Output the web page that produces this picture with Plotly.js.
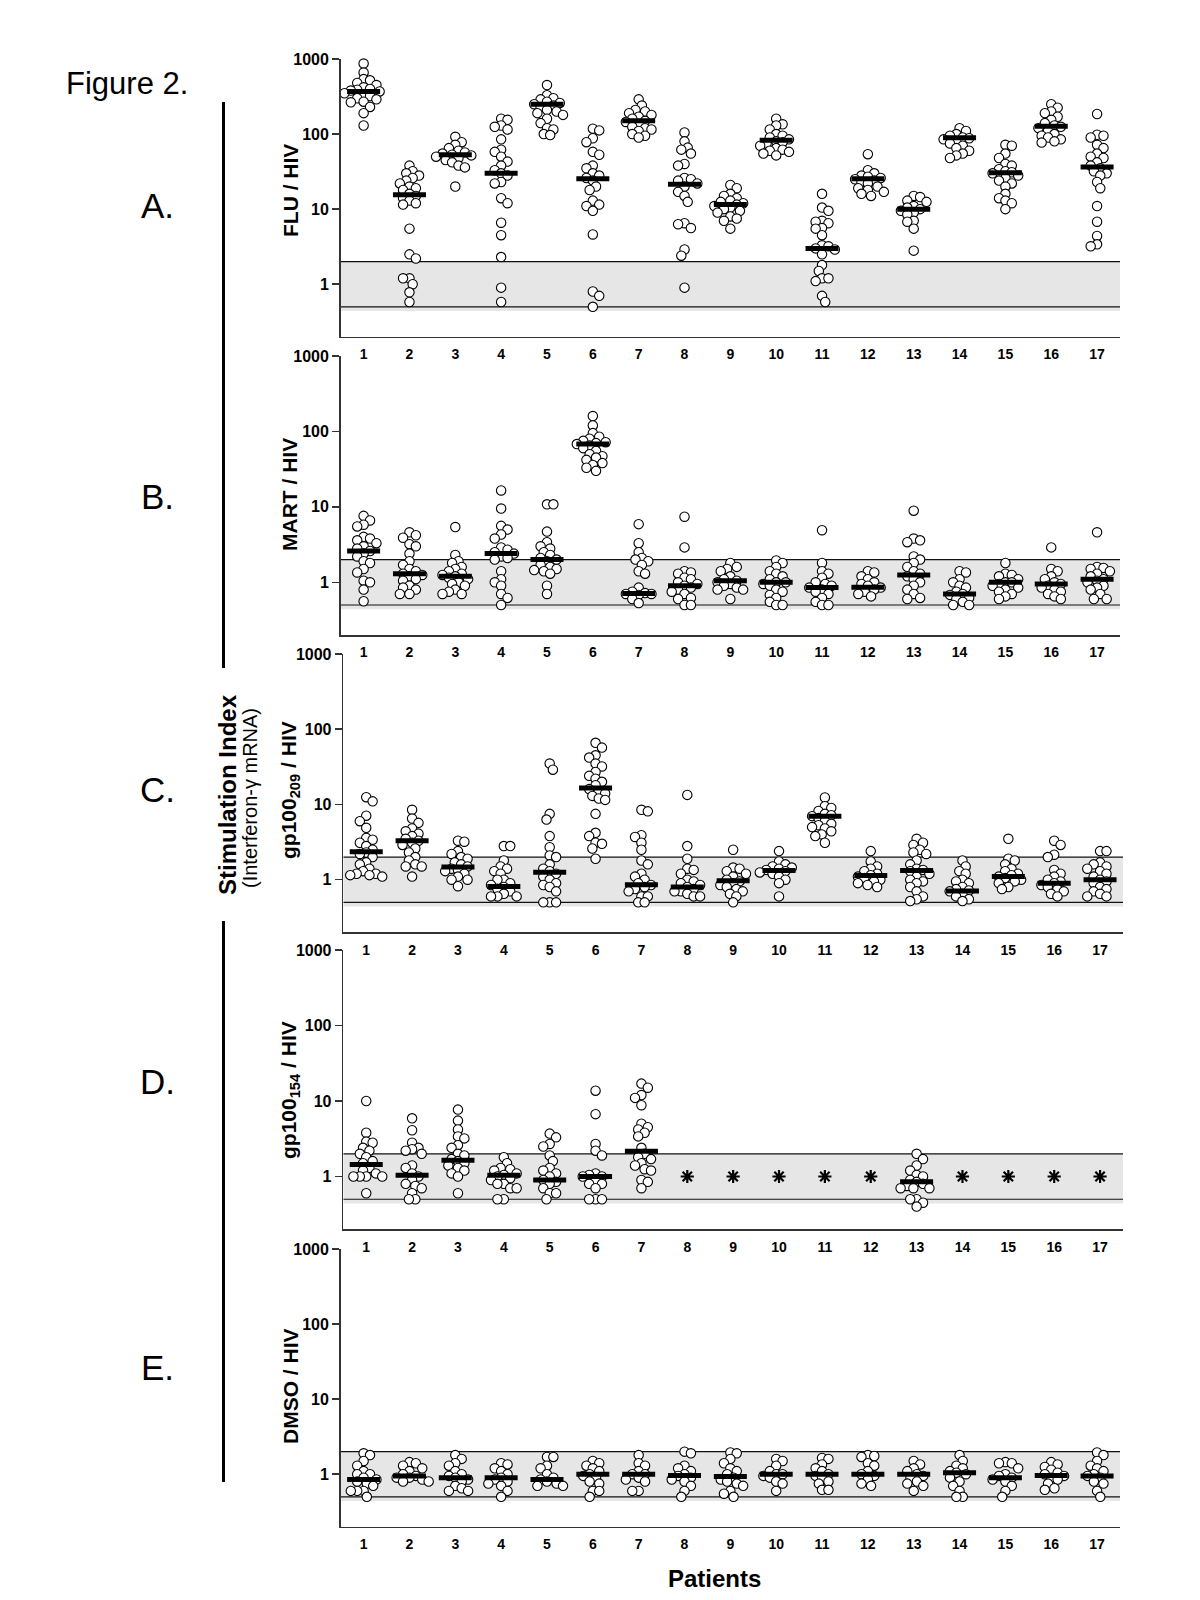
<!DOCTYPE html>
<html>
<head>
<meta charset="utf-8">
<script src="https://cdn.plot.ly/plotly-3.0.1.min.js"></script>
<style>html,body{margin:0;padding:0;background:#fff;}#chart{width:1200px;height:1600px;}</style>
</head>
<body>
<div id="chart"></div>
<script>
// ---------------- DATA ----------------
const patients = [1,2,3,4,5,6,7,8,9,10,11,12,13,14,15,16,17];
const yTickVals = [1, 10, 100, 1000];
const yTickText = ["1", "10", "100", "1000"];
const bandLow = 0.44, bandHigh = 2, lineLow = 0.5, lineHigh = 2;

const fluHiv = [
  [870,660,540,520,480,450,420,400,390,380,370,350,330,320,300,290,270,265,230,190,130],
  [38,32,30,28,26,24,22,20,19,18,16,15,14,13,12,11.5,5.5,2.5,2.2,1.2,1.2,1.0,0.78,0.58],
  [92,78,72,65,60,57,55,53,52,50,48,45,42,38,36,20],
  [160,155,130,125,115,85,62,58,50,43,38,33,30,28,23,22,14,12,6.6,4.5,2.3,0.9,0.58],
  [450,330,300,290,270,260,250,240,230,210,200,190,180,160,140,120,115,100,97],
  [118,112,88,78,58,53,38,35,30,28,26,24,20,18,13,11.5,11,9.5,4.6,0.8,0.7,0.5],
  [290,240,210,200,190,180,170,160,150,145,135,125,120,115,110,100,95,90],
  [105,80,66,62,55,40,38,26,25,24,22,20,17,15,12.5,6.5,6.3,5.6,2.9,2.4,0.9],
  [21,19,16,15,14,13,12.5,12,11.5,11,10.5,10,9.5,9,8,7.5,7,5.5],
  [160,135,130,115,100,95,90,85,80,78,75,70,65,62,60,58,55,52],
  [16,10.5,9.5,7,6.8,6.5,5.6,5.5,4.5,3.3,3.2,3.0,2.9,2.5,1.8,1.5,1.2,1.2,1.1,0.7,0.58],
  [54,33,30,28,27,26,25,24,23,22,20,19,18,17,16,15],
  [15,14.5,13,12.5,11,10.5,10,9.5,9,8.5,7,6.8,5.5,2.8],
  [120,110,100,95,90,88,85,80,75,70,65,60,55,52,48],
  [72,70,55,48,40,38,34,32,31,30,28,26,24,22,20,16,14,13,12,10],
  [250,225,200,190,170,155,140,130,125,120,110,100,95,90,85,80,77],
  [185,98,95,90,72,65,55,50,48,42,38,35,32,30,28,23,19,11,6.8,4.4,3.4,3.2]
];
const fluMedian = [370,15.5,53,30,250,25.5,150,21.5,11.5,83,3.0,25.5,10,89,30.5,127,36.5];

const martHiv = [
  [7.6,6.6,5.8,5.5,4.0,3.8,3.6,3.3,3.0,2.8,2.6,2.4,2.2,1.9,1.8,1.5,1.35,1.05,1.0,0.8,0.56],
  [4.6,4.2,3.9,3.2,3.0,2.4,1.9,1.7,1.5,1.4,1.3,1.25,1.2,1.1,1.05,0.9,0.85,0.8,0.7,0.7],
  [5.4,2.3,1.9,1.8,1.6,1.5,1.4,1.3,1.25,1.2,1.15,1.1,1.0,0.95,0.9,0.8,0.75,0.7,0.7],
  [16.5,9.5,5.6,5.0,4.3,3.8,2.9,2.7,2.5,2.4,2.2,2.1,2.0,1.4,1.1,1.0,0.9,0.7,0.62,0.5],
  [10.8,10.8,4.7,3.4,3.0,2.8,2.5,2.3,2.1,2.0,1.9,1.7,1.6,1.5,1.45,1.4,1.3,0.9,0.7],
  [160,120,95,85,80,75,72,70,68,65,60,55,50,47,45,42,38,36,33,30],
  [5.9,3.3,2.5,2.1,2.0,1.9,1.7,1.4,1.3,0.85,0.75,0.72,0.7,0.7,0.68,0.6,0.53],
  [7.4,2.9,1.4,1.35,1.3,1.15,1.1,1.0,0.95,0.9,0.85,0.8,0.75,0.7,0.62,0.6,0.5,0.5],
  [1.8,1.6,1.5,1.4,1.2,1.1,1.05,1.0,0.95,0.9,0.85,0.8,0.8,0.6],
  [1.95,1.8,1.6,1.4,1.3,1.2,1.1,1.0,1.0,0.95,0.9,0.8,0.75,0.68,0.62,0.55,0.5,0.5],
  [4.9,1.8,1.4,1.3,1.15,1.0,0.95,0.9,0.85,0.8,0.75,0.7,0.62,0.55,0.5,0.5],
  [1.4,1.35,1.2,1.1,1.0,0.95,0.9,0.85,0.8,0.75,0.7,0.65],
  [8.9,3.8,3.6,3.4,2.2,2.0,1.8,1.6,1.4,1.3,1.2,1.1,1.0,0.9,0.8,0.7,0.62,0.6],
  [1.4,1.35,1.1,1.0,0.9,0.85,0.75,0.7,0.68,0.62,0.6,0.55,0.5,0.5],
  [1.8,1.3,1.25,1.2,1.1,1.0,1.0,0.95,0.9,0.85,0.8,0.75,0.7,0.65,0.6],
  [2.9,1.5,1.4,1.2,1.1,1.0,0.95,0.9,0.85,0.8,0.75,0.7,0.65,0.6],
  [4.6,1.6,1.55,1.5,1.4,1.3,1.2,1.1,1.05,1.0,0.9,0.85,0.8,0.7,0.6,0.6]
];
const martMedian = [2.6,1.3,1.2,2.4,2.0,68,0.71,0.9,1.05,1.0,0.85,0.86,1.25,0.7,1.0,0.95,1.1];

const gp209Hiv = [
  [12.5,11,7.1,6.0,4.9,3.6,3.4,3.1,2.8,2.5,2.3,2.2,2.0,1.7,1.6,1.4,1.3,1.2,1.2,1.15,1.15,1.1],
  [8.5,6.5,5.7,4.8,4.4,4.1,3.8,3.5,3.3,3.1,2.9,2.6,2.3,2.0,1.8,1.6,1.5,1.5,1.1],
  [3.3,3.2,2.4,2.2,2.0,1.9,1.7,1.6,1.5,1.4,1.35,1.3,1.2,1.1,1.0,1.0,0.82],
  [2.8,2.8,1.8,1.5,1.4,1.3,1.2,1.0,1.0,0.9,0.85,0.8,0.75,0.7,0.65,0.6,0.6,0.6],
  [35,29,7.5,6.3,3.8,2.7,2.1,2.0,1.6,1.4,1.3,1.2,1.1,1.0,0.9,0.85,0.8,0.7,0.5,0.5,0.5],
  [66,57,45,42,35,32,27,24,22,20,18,16,15,14,13,12,11.5,7.5,4.2,3.8,3.1,3.0,2.6,1.9],
  [8.5,8.1,3.9,3.7,3.1,2.5,1.8,1.6,1.2,1.1,1.0,0.9,0.85,0.8,0.75,0.7,0.6,0.6,0.5,0.5],
  [13.4,2.8,1.9,1.4,1.35,1.2,1.0,0.95,0.9,0.85,0.8,0.75,0.7,0.7,0.65,0.6,0.6],
  [2.5,1.45,1.4,1.3,1.2,1.1,1.0,0.95,0.9,0.85,0.8,0.75,0.7,0.65,0.6,0.5],
  [2.4,1.75,1.6,1.5,1.45,1.4,1.35,1.3,1.25,1.2,1.1,1.0,0.9,0.6],
  [12.4,9.5,9.0,8.2,7.5,7.2,7.0,6.6,6.0,5.5,5.3,5.0,4.8,4.4,4.0,3.8,3.1],
  [2.4,1.75,1.5,1.4,1.3,1.2,1.15,1.1,1.05,1.0,0.95,0.9,0.85,0.8],
  [3.5,3.1,2.9,2.5,2.3,2.2,1.8,1.6,1.4,1.35,1.3,1.2,1.1,1.0,0.95,0.9,0.8,0.7,0.6,0.55,0.52],
  [1.8,1.5,1.3,1.2,1.0,0.95,0.9,0.8,0.75,0.72,0.7,0.65,0.6,0.55,0.52],
  [3.5,1.9,1.8,1.6,1.4,1.3,1.2,1.15,1.1,1.05,1.0,0.95,0.9,0.8,0.75],
  [3.3,2.9,2.15,2.0,1.35,1.2,1.1,1.0,0.95,0.9,0.85,0.8,0.75,0.7,0.65,0.6],
  [2.4,2.4,1.7,1.6,1.5,1.4,1.3,1.2,1.1,1.0,0.95,0.9,0.8,0.75,0.7,0.65,0.6,0.6]
];
const gp209Median = [2.35,3.3,1.47,0.81,1.26,16.5,0.86,0.8,0.97,1.33,7.0,1.14,1.33,0.71,1.1,0.9,1.0];

const gp154Hiv = [
  [10,3.8,2.9,2.8,2.4,2.2,2.0,1.8,1.6,1.5,1.3,1.2,1.1,1.0,1.0,1.0,1.0,0.6],
  [5.9,4.1,2.8,2.4,2.3,2.2,2.0,1.4,1.3,1.1,1.0,0.9,0.8,0.75,0.7,0.6,0.5,0.5],
  [7.7,5.5,4.2,3.4,3.2,2.6,2.4,2.0,1.9,1.7,1.6,1.5,1.4,1.3,1.2,1.1,1.0,0.6],
  [1.8,1.5,1.3,1.25,1.2,1.1,1.05,1.0,0.95,0.9,0.8,0.8,0.7,0.7,0.5,0.5],
  [3.7,3.3,2.7,2.5,1.9,1.6,1.3,1.2,1.1,1.0,0.9,0.85,0.8,0.7,0.6,0.6,0.5],
  [13.7,6.7,2.7,2.2,1.9,1.1,1.05,1.0,1.0,0.9,0.8,0.8,0.7,0.5,0.5,0.5],
  [17,15,12,11,8.8,5.0,4.5,4.2,3.8,3.4,2.4,2.0,1.8,1.7,1.5,1.4,1.25,1.2,0.9,0.85,0.7],
  [], [], [], [], [],
  [2.0,1.7,1.4,1.2,1.05,1.0,0.9,0.85,0.8,0.75,0.7,0.7,0.7,0.5,0.5,0.45,0.4],
  [], [], [], []
];
const gp154Median = [1.44,1.04,1.64,1.04,0.9,1.0,2.16,null,null,null,null,null,0.85,null,null,null,null];
const gp154NotDone = [8,9,10,11,12,14,15,16,17];
const notDoneMarkValue = 1;

const dmsoHiv = [
  [1.9,1.8,1.5,1.3,1.1,1.0,1.0,0.9,0.85,0.8,0.75,0.7,0.6,0.6,0.6,0.5],
  [1.45,1.4,1.3,1.2,1.1,1.0,0.95,0.9,0.9,0.85,0.8,0.8],
  [1.8,1.6,1.4,1.3,1.1,1.0,0.95,0.9,0.85,0.8,0.7,0.65,0.6,0.6],
  [1.4,1.35,1.2,1.1,1.0,0.9,0.85,0.8,0.75,0.7,0.6,0.5],
  [1.7,1.7,1.3,1.2,1.0,0.9,0.85,0.8,0.75,0.7,0.7],
  [1.5,1.4,1.3,1.2,1.1,1.0,0.95,0.9,0.8,0.75,0.6,0.6,0.5],
  [1.8,1.4,1.3,1.1,1.0,1.0,0.9,0.85,0.8,0.6,0.6],
  [2.0,1.9,1.3,1.2,1.1,1.0,0.95,0.9,0.85,0.8,0.7,0.6,0.5],
  [1.95,1.9,1.6,1.4,1.2,1.1,1.0,0.9,0.85,0.8,0.75,0.7,0.6,0.55,0.5],
  [1.6,1.5,1.3,1.1,1.0,1.0,0.95,0.9,0.8,0.75,0.6],
  [1.65,1.6,1.35,1.2,1.1,1.0,0.95,0.9,0.8,0.75,0.62,0.62],
  [1.8,1.75,1.7,1.4,1.3,1.1,1.0,0.95,0.85,0.75,0.7],
  [1.5,1.35,1.2,1.1,1.0,0.95,0.9,0.8,0.75,0.7,0.6],
  [1.8,1.5,1.3,1.2,1.1,1.05,1.0,0.9,0.8,0.7,0.6,0.5,0.5],
  [1.45,1.4,1.4,1.2,1.0,0.95,0.9,0.85,0.8,0.7,0.6,0.5],
  [1.45,1.35,1.25,1.15,1.05,1.0,0.95,0.9,0.85,0.75,0.65,0.62],
  [1.95,1.8,1.5,1.3,1.2,1.1,1.0,0.95,0.9,0.8,0.75,0.6,0.5]
];
const dmsoMedian = [0.85,0.95,0.9,0.9,0.85,1.0,1.0,0.96,0.93,1.0,1.0,1.0,1.0,1.05,0.9,0.96,0.95];

// ---------------- LAYOUT HELPERS ----------------
const W = 1200, H = 1600;
const FONT = "Liberation Sans, Arial, Helvetica, sans-serif";
const px = v => v / W;
const py = v => 1 - v / H;

const panels = [
  {data: fluHiv,  med: fluMedian,   xl: 340.7, xr: 1120, top: 59,   bot: 336.7,  title: "FLU / HIV", ty: 191},
  {data: martHiv, med: martMedian,  xl: 340.7, xr: 1120, top: 356,  bot: 635,    title: "MART / HIV", ty: 495},
  {data: gp209Hiv,med: gp209Median, xl: 343.3, xr: 1123, top: 654,  bot: 932.3,  title: "gp100<sub>209</sub> / HIV", ty: 790},
  {data: gp154Hiv,med: gp154Median, xl: 343.3, xr: 1123, top: 950,  bot: 1229.3, title: "gp100<sub>154</sub> / HIV", ty: 1090},
  {data: dmsoHiv, med: dmsoMedian,  xl: 340.7, xr: 1120, top: 1249, bot: 1526.7, title: "DMSO / HIV", ty: 1386}
];

const Y_MIN = 0.2, Y_MAX = 1000;
const X_MIN = 0.5, X_MAX = 17.5;

// simple deterministic beeswarm: spread overlapping points sideways
function swarm(vals, pxPerDecade, pxPerCat) {
  const MIN = 6.4, STEP = 3.2;
  const order = vals.map((v, i) => ({i, y: Math.log10(v) * pxPerDecade}))
                    .sort((a, b) => b.y - a.y);
  const placed = [];
  const out = new Array(vals.length).fill(0);
  let flip = 1;
  for (const p of order) {
    let chosen = 0;
    for (let k = 0; k < 30; k++) {
      const cands = k === 0 ? [0] : [flip * k * STEP, -flip * k * STEP];
      let ok = null;
      for (const dx of cands) {
        if (placed.every(q => Math.hypot(q.x - dx, q.y - p.y) >= MIN)) { ok = dx; break; }
      }
      if (ok !== null) { chosen = ok; break; }
    }
    if (chosen !== 0) flip = -flip;
    placed.push({x: chosen, y: p.y});
    out[p.i] = chosen / pxPerCat;
  }
  return out;
}

const traces = [];
const layout = {
  width: W, height: H,
  margin: {l: 0, r: 0, t: 0, b: 0},
  paper_bgcolor: "#fff", plot_bgcolor: "rgba(0,0,0,0)",
  showlegend: false, hovermode: false,
  font: {family: FONT, color: "#000"},
  annotations: [], shapes: []
};

panels.forEach((P, k) => {
  const n = k + 1;
  const xa = n === 1 ? "x" : "x" + n;
  const ya = n === 1 ? "y" : "y" + n;
  const xKey = n === 1 ? "xaxis" : "xaxis" + n;
  const yKey = n === 1 ? "yaxis" : "yaxis" + n;
  const plotW = P.xr - P.xl;
  const plotH = P.bot - P.top;
  const pxPerCat = plotW / (X_MAX - X_MIN);
  const pxPerDecade = plotH / (Math.log10(Y_MAX) - Math.log10(Y_MIN));

  layout[xKey] = {
    domain: [px(P.xl), px(P.xr)], anchor: ya, range: [X_MIN, X_MAX],
    tickmode: "array", tickvals: patients, ticktext: patients.map(String),
    showline: true, linecolor: "#333", linewidth: 1.6, ticks: "",
    ticklabelstandoff: 4,
    showgrid: false, zeroline: false, fixedrange: true,
    tickfont: {family: FONT, size: 14, weight: "bold", color: "#000"}
  };
  layout[yKey] = {
    domain: [py(P.bot), py(P.top)], anchor: xa, type: "log",
    range: [Math.log10(Y_MIN), Math.log10(Y_MAX)],
    tickmode: "array", tickvals: yTickVals, ticktext: yTickText,
    showline: true, linecolor: "#333", linewidth: 1.6,
    ticks: "outside", ticklen: 7, tickwidth: 1.5, tickcolor: "#333",
    showgrid: false, zeroline: false, fixedrange: true,
    tickfont: {family: FONT, size: 16, weight: "bold", color: "#000"}
  };

  // shaded band
  traces.push({
    type: "scatter", mode: "lines", xaxis: xa, yaxis: ya,
    x: [X_MIN, X_MAX, X_MAX, X_MIN, X_MIN],
    y: [bandLow, bandLow, bandHigh, bandHigh, bandLow],
    fill: "toself", fillcolor: "#e6e6e6", line: {width: 0}, hoverinfo: "skip"
  });
  // threshold lines
  traces.push({
    type: "scatter", mode: "lines", xaxis: xa, yaxis: ya,
    x: [X_MIN, X_MAX, null, X_MIN, X_MAX],
    y: [lineHigh, lineHigh, null, lineLow, lineLow],
    line: {color: "#111", width: 1.2}, hoverinfo: "skip"
  });

  // points
  const xs = [], ys = [];
  P.data.forEach((vals, i) => {
    if (!vals.length) return;
    const off = swarm(vals, pxPerDecade, pxPerCat);
    vals.forEach((v, j) => { xs.push(patients[i] + off[j]); ys.push(v); });
  });
  traces.push({
    type: "scatter", mode: "markers", xaxis: xa, yaxis: ya, x: xs, y: ys,
    marker: {symbol: "circle", size: 9.4, color: "#fff", line: {color: "#000", width: 1.1}},
    cliponaxis: false, hoverinfo: "skip"
  });

  // medians
  const mx = [], my = [];
  P.med.forEach((m, i) => {
    if (m === null) return;
    mx.push(patients[i] - 0.36, patients[i] + 0.36, null);
    my.push(m, m, null);
  });
  traces.push({
    type: "scatter", mode: "lines", xaxis: xa, yaxis: ya, x: mx, y: my,
    line: {color: "#000", width: 5}, hoverinfo: "skip"
  });

  if (n === 4) {
    traces.push({
      type: "scatter", mode: "markers", xaxis: xa, yaxis: ya,
      x: gp154NotDone, y: gp154NotDone.map(() => notDoneMarkValue),
      marker: {symbol: "asterisk-open", size: 11, color: "#000", line: {color: "#000", width: 2.2}},
      hoverinfo: "skip"
    });
  }

  // y-axis title
  layout.annotations.push({
    xref: "paper", yref: "paper", x: px(290), y: py(P.ty), text: "<b>" + P.title + "</b>",
    textangle: -90, showarrow: false, xanchor: "center", yanchor: "middle",
    font: {family: FONT, size: 21, color: "#000"}
  });
});

// letters and figure labels
const letters = [["A.", 205], ["B.", 497], ["C.", 789], ["D.", 1081], ["E.", 1367]];
letters.forEach(([t, y]) => layout.annotations.push({
  xref: "paper", yref: "paper", x: px(157), y: py(y), text: t, showarrow: false,
  xanchor: "center", yanchor: "middle", font: {family: FONT, size: 35, color: "#000"}
}));
layout.annotations.push({
  xref: "paper", yref: "paper", x: px(127), y: py(83), text: "Figure 2.", showarrow: false,
  xanchor: "center", yanchor: "middle", font: {family: FONT, size: 31, color: "#000"}
});
layout.annotations.push({
  xref: "paper", yref: "paper", x: px(228), y: py(795), text: "<b>Stimulation Index</b>",
  textangle: -90, showarrow: false, xanchor: "center", yanchor: "middle",
  font: {family: FONT, size: 24, color: "#000"}
});
layout.annotations.push({
  xref: "paper", yref: "paper", x: px(250), y: py(798), text: "(Interferon-γ mRNA)",
  textangle: -90, showarrow: false, xanchor: "center", yanchor: "middle",
  font: {family: FONT, size: 20, color: "#000"}
});
layout.annotations.push({
  xref: "paper", yref: "paper", x: px(714), y: py(1578), text: "<b>Patients</b>",
  showarrow: false, xanchor: "center", yanchor: "middle",
  font: {family: FONT, size: 24, color: "#000"}
});

// bracket lines
layout.shapes.push(
  {type: "line", xref: "paper", yref: "paper", x0: px(223.5), x1: px(223.5), y0: py(102), y1: py(668), line: {color: "#000", width: 3}},
  {type: "line", xref: "paper", yref: "paper", x0: px(223.5), x1: px(223.5), y0: py(921), y1: py(1482), line: {color: "#000", width: 3}}
);

Plotly.newPlot("chart", traces, layout, {staticPlot: true, displayModeBar: false});
</script>
</body>
</html>
